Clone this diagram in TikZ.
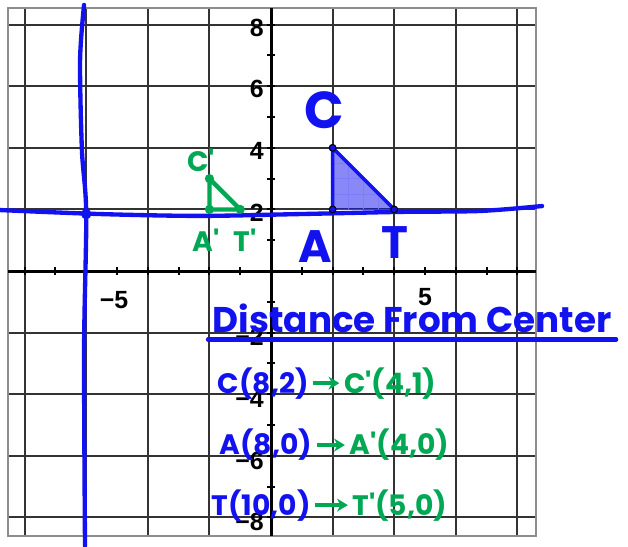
\documentclass[tikz,border=0pt]{standalone}
\usepackage{fontspec}
\setmainfont{Liberation Sans}
\newfontfamily\handfont{Poppins}
\usetikzlibrary{arrows.meta,positioning}
\definecolor{penblue}{RGB}{18, 18, 240}
\definecolor{pengreen}{RGB}{0, 168, 84}

\begin{document}
\begin{tikzpicture}[
    x=0.5cm, y=0.5cm,
    gridline/.style={black!80, line width=0.9pt},
    axisline/.style={black, line width=1.4pt},
    ticklabel/.style={font=\bfseries\fontsize{11.5}{12}\selectfont, inner sep=1pt},
    pen/.style={penblue, line width=2pt, line cap=round, line join=round},
    greenpen/.style={pengreen, line width=2pt, line cap=round, line join=round},
    bluetext/.style={text=penblue, font=\handfont\bfseries\fontsize{13}{15}\selectfont, inner sep=2pt},
    greentext/.style={text=pengreen, font=\handfont\bfseries\fontsize{13}{15}\selectfont, inner sep=2pt},
    arrow/.style={-{Stealth[length=5pt,width=6pt]}, pengreen, line width=2pt}
  ]
  \useasboundingbox (-8.8,-8.93) rectangle (11.59,8.8);
  \fill[white] (-8.8,-8.93) rectangle (11.59,8.8);

  \draw[gridline] (-8.55,-8.6) grid (8.6,8.55);
  \draw[black!45, line width=0.9pt] (-8.55,-8.6) rectangle (8.6,8.55);
  \draw[axisline] (-8.55,0) -- (8.6,0);
  \draw[axisline] (0,-8.6) -- (0,8.55);
  \foreach \k in {-8,...,8} {
    \draw[axisline, line width=0.9pt] (\k,-0.12) -- (\k,0.12);
    \draw[axisline, line width=0.9pt] (-0.12,\k) -- (0.12,\k);
  }
  \foreach \k in {2,4,6,8} {
    \node[ticklabel, anchor=east] (ylab_p\k) at (-0.15,\k-0.1) {\k};
    \node[ticklabel, anchor=east] (ylab_m\k) at (-0.15,-\k-0.15) {−\k};
  }
  \node[ticklabel] (xlab_m5) at (-5.1,-0.95) {−5};
  \node[ticklabel] (xlab_p5) at (5,-0.85) {5};

  \coordinate (pt_a) at (2,2);
  \coordinate (pt_c) at (2,4);
  \coordinate (pt_t) at (4,2);
  \fill[penblue, fill opacity=0.5] (pt_a) -- (pt_c) -- (pt_t) -- cycle;
  \begin{scope}
    \clip (pt_a) -- (pt_c) -- (pt_t) -- cycle;
    \draw[penblue!55!white, line width=0.4pt] (1.5,1.5) grid[step=0.5] (4.5,4.5);
  \end{scope}
  \draw[pen, line width=1.6pt] (pt_a) -- (pt_c) -- (pt_t);

  \draw[pen] plot[smooth] coordinates {(-6.07,8.64) (-6.2,6.85) (-6.14,3.93) (-6.0,1.85) (-6.07,-2.56) (-6.04,-8.93)};
  \draw[pen] plot[smooth] coordinates {(-8.8,1.98) (-5.55,1.85) (-2.31,1.79) (0.94,1.85) (4.19,1.92) (6.79,1.95) (8.8,2.11)};
  \fill[penblue] (-6.0,1.85) circle (0.17);
  \foreach \p in {pt_a,pt_c,pt_t}
    \draw[black, fill=penblue, line width=0.5pt] (\p) circle (0.11);

  \coordinate (img_c) at (-2,3);
  \coordinate (img_a) at (-2,2);
  \coordinate (img_t) at (-1,2);
  \draw[greenpen] (img_c) -- (img_a) -- (img_t) -- cycle;
  \foreach \p in {img_c,img_a,img_t}
    \fill[pengreen] (\p) circle (0.15);

  \node[bluetext, font=\handfont\bfseries\fontsize{24}{24}\selectfont] (lab_c) at (1.72,5.23) {C};
  \node[bluetext, font=\handfont\bfseries\fontsize{21}{21}\selectfont] (lab_a) at (1.43,0.8) {A};
  \node[bluetext, font=\handfont\bfseries\fontsize{21}{21}\selectfont] (lab_t) at (4.03,0.94) {T};
  \node[greentext, font=\handfont\bfseries\fontsize{13}{13}\selectfont] (lab_c1) at (-2.27,3.6) {C'};
  \node[greentext, font=\handfont\bfseries\fontsize{13}{13}\selectfont] (lab_a1) at (-2.11,1.0) {A'};
  \node[greentext, font=\handfont\bfseries\fontsize{13}{13}\selectfont] (lab_t1) at (-0.85,1.0) {T'};

  \node[bluetext, font=\handfont\bfseries\fontsize{16.5}{16.5}\selectfont] (title) at (4.58,-1.55) {Distance From Center};
  \draw[pen] ([yshift=-3pt]title.base west) -- ([yshift=-3pt]title.base east);

  \node[bluetext, anchor=west] (row_c) at (-1.88,-3.64) {C(8,2)};
  \node[greentext, right=12pt of row_c] (row_c1) {C'(4,1)};
  \draw[arrow] (row_c) -- (row_c1);

  \node[bluetext, anchor=west] (row_a) at (-1.82,-5.65) {A(8,0)};
  \node[greentext, right=13pt of row_a] (row_a1) {A'(4,0)};
  \draw[arrow] (row_a) -- (row_a1);

  \node[bluetext, anchor=west] (row_t) at (-2.08,-7.6) {T(10,0)};
  \node[greentext, right=15pt of row_t] (row_t1) {T'(5,0)};
  \draw[arrow] (row_t) -- (row_t1);
\end{tikzpicture}
\end{document}
